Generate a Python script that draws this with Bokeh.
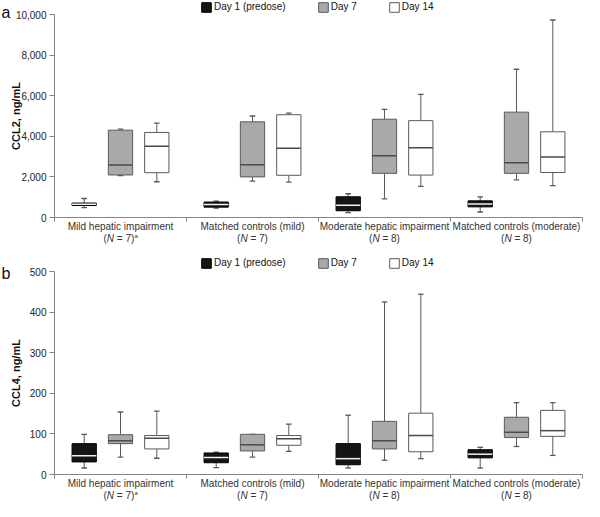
from math import pi
from bokeh.plotting import figure
from bokeh.models import (Range1d, FixedTicker, NumeralTickFormatter, Label,
                          Legend, LegendItem, LinearAxis)
from bokeh.layouts import column
from bokeh.embed import file_html
from bokeh.resources import INLINE

# ---------------- data ----------------
groups = ["Mild hepatic impairment", "Matched controls (mild)",
          "Moderate hepatic impairment", "Matched controls (moderate)"]
group_n = ["7", "7", "8", "8"]
group_note = ["a", "", "", ""]
days = ["Day 1 (predose)", "Day 7", "Day 14"]

# CCL2, ng/mL  (min, q1, median, q3, max) per group
ccl2_day1_min = [490, 460, 238, 270]
ccl2_day1_q1 = [590, 510, 333, 524]
ccl2_day1_med = [650, 635, 600, 670]
ccl2_day1_q3 = [712, 762, 1020, 820]
ccl2_day1_max = [937, 810, 1170, 1016]
ccl2_day7_min = [2063, 1794, 921, 1857]
ccl2_day7_q1 = [2095, 2000, 2175, 2175]
ccl2_day7_med = [2587, 2603, 3040, 2700]
ccl2_day7_q3 = [4302, 4714, 4841, 5190]
ccl2_day7_max = [4349, 5000, 5325, 7302]
ccl2_day14_min = [1762, 1746, 1530, 1571]
ccl2_day14_q1 = [2206, 2079, 2090, 2215]
ccl2_day14_med = [3508, 3413, 3430, 2976]
ccl2_day14_q3 = [4190, 5063, 4770, 4222]
ccl2_day14_max = [4651, 5143, 6070, 9730]

# CCL4, ng/mL
ccl4_day1_min = [16, 17, 16, 16]
ccl4_day1_q1 = [31, 29, 24, 41]
ccl4_day1_med = [46, 42, 39, 50]
ccl4_day1_q3 = [76, 53, 76, 61]
ccl4_day1_max = [99, 55, 146, 67]
ccl4_day7_min = [43, 43, 35, 69]
ccl4_day7_q1 = [76, 58, 63, 91]
ccl4_day7_med = [83, 73, 83, 104]
ccl4_day7_q3 = [98, 99, 131, 141]
ccl4_day7_max = [154, 99, 425, 177]
ccl4_day14_min = [40, 57, 39, 47]
ccl4_day14_q1 = [63, 72, 56, 94]
ccl4_day14_med = [89, 88, 96, 108]
ccl4_day14_q3 = [96, 96, 151, 158]
ccl4_day14_max = [156, 124, 444, 177]

ccl2_ticks = [0, 2000, 4000, 6000, 8000, 10000]
ccl4_ticks = [0, 100, 200, 300, 400, 500]

ccl2 = [
    (ccl2_day1_min, ccl2_day1_q1, ccl2_day1_med, ccl2_day1_q3, ccl2_day1_max),
    (ccl2_day7_min, ccl2_day7_q1, ccl2_day7_med, ccl2_day7_q3, ccl2_day7_max),
    (ccl2_day14_min, ccl2_day14_q1, ccl2_day14_med, ccl2_day14_q3, ccl2_day14_max),
]
ccl4 = [
    (ccl4_day1_min, ccl4_day1_q1, ccl4_day1_med, ccl4_day1_q3, ccl4_day1_max),
    (ccl4_day7_min, ccl4_day7_q1, ccl4_day7_med, ccl4_day7_q3, ccl4_day7_max),
    (ccl4_day14_min, ccl4_day14_q1, ccl4_day14_med, ccl4_day14_q3, ccl4_day14_max),
]

# ---------------- style / layout (pixels) ----------------
FONT = "Liberation Sans"
AXIS_COL = "#858585"
FIG_W = 584
LEFT = 54        # space left of the y axis
RIGHT = 2        # space right of the plotting area
PLOT_H = 203
offsets = [-0.275, 0.0, 0.275]
box_w = 0.184
cap_w = 0.021
fills = ["#151515", "#a9a9a9", "#ffffff"]
borders = ["#000000", "#5a5a5a", "#5a5a5a"]
medians = ["#f2f2f2", "#4a4a4a", "#4a4a4a"]
whisk = ["#555555", "#5a5a5a", "#5a5a5a"]


def make_panel(stats, ymax, ticks, fmt, ylabel, letter, top, bottom,
               legend_center, letter_base):
    height = top + PLOT_H + bottom
    ngroups = len(groups)
    xpx = (FIG_W - LEFT - RIGHT) / ngroups       # pixels per group
    ypx = ymax / PLOT_H                          # data units per pixel
    p = figure(width=FIG_W, height=height,
               x_range=Range1d(-LEFT / xpx, ngroups + RIGHT / xpx),
               y_range=Range1d(-bottom * ypx, ymax + top * ypx),
               output_backend="svg", toolbar_location=None,
               x_axis_location=None, y_axis_location=None,
               min_border_left=0, min_border_right=0,
               min_border_top=0, min_border_bottom=0)
    p.outline_line_color = None
    p.xgrid.visible = False
    p.ygrid.visible = False
    p.background_fill_color = "white"

    ya = LinearAxis(fixed_location=0, bounds=(0, ymax))
    ya.ticker = FixedTicker(ticks=ticks)
    ya.formatter = NumeralTickFormatter(format=fmt)
    ya.axis_line_color = AXIS_COL
    ya.major_tick_line_color = AXIS_COL
    ya.major_tick_out = 5
    ya.major_tick_in = 0
    ya.minor_tick_out = 0
    ya.minor_tick_in = 0
    ya.major_label_standoff = 3
    ya.major_label_text_font = FONT
    ya.major_label_text_font_size = "10px"
    ya.major_label_text_color = "#222222"
    p.add_layout(ya, "left")

    xa = LinearAxis(fixed_location=0, bounds=(0, ngroups))
    xa.ticker = FixedTicker(ticks=[], minor_ticks=list(range(ngroups + 1)))
    xa.axis_line_color = AXIS_COL
    xa.major_tick_line_color = AXIS_COL
    xa.minor_tick_line_color = AXIS_COL
    xa.major_tick_out = 0
    xa.major_tick_in = 0
    xa.minor_tick_out = 4
    xa.minor_tick_in = 0
    p.add_layout(xa, "below")

    box_renderers = []
    for d in range(3):
        mn, q1, md, q3, mx = stats[d]
        xs = [i + 0.5 + offsets[d] for i in range(ngroups)]
        xl = [x - cap_w for x in xs]
        xr = [x + cap_w for x in xs]
        p.segment(xs, q3, xs, mx, line_color=whisk[d], line_width=1)
        p.segment(xs, q1, xs, mn, line_color=whisk[d], line_width=1)
        p.segment(xl, mx, xr, mx, line_color=whisk[d], line_width=1.3)
        p.segment(xl, mn, xr, mn, line_color=whisk[d], line_width=1.3)
        r = p.vbar(x=xs, width=box_w, bottom=q1, top=q3, fill_color=fills[d],
                   line_color=borders[d], line_width=1)
        box_renderers.append(r)
        ml = [x - box_w / 2 for x in xs]
        mr = [x + box_w / 2 for x in xs]
        p.segment(ml, md, mr, md, line_color=medians[d], line_width=1.5)

    # legend: location is its bottom-left corner, from the frame's bottom-left
    legend_h = 13
    legend = Legend(items=[LegendItem(label=days[d], renderers=[box_renderers[d]])
                           for d in range(3)],
                    orientation="horizontal",
                    location=(200, height - (legend_center + legend_h / 2)),
                    glyph_width=12, glyph_height=12, label_standoff=2,
                    spacing=31, padding=0, margin=0, label_height=12,
                    label_width=10, border_line_alpha=0, background_fill_alpha=0,
                    label_text_font=FONT, label_text_font_size="10px",
                    label_text_color="#111111")
    p.add_layout(legend)

    # y axis title
    p.add_layout(Label(x=15, y=bottom + PLOT_H / 2, x_units="screen", y_units="screen",
                       text=ylabel, angle=pi / 2, text_align="center",
                       text_baseline="middle", text_font=FONT,
                       text_font_size="11px", text_font_style="bold",
                       text_color="#111111"))
    # panel letter
    p.add_layout(Label(x=1, y=height - letter_base, x_units="screen", y_units="screen",
                       text=letter, text_align="left", text_baseline="alphabetic",
                       text_font=FONT, text_font_size="16px", text_color="#111111"))

    # category labels (two lines, italic N)
    fs = 10
    cw = fs * 0.333
    nw = fs * 0.722
    sw = fs * 0.278
    rw = fs * (0.584 + 0.278 + 0.556 + 0.333)
    for i, g in enumerate(groups):
        cx = i + 0.5
        common = dict(x=cx, y=bottom - 9, x_units="data", y_units="screen",
                      text_baseline="middle", text_font=FONT,
                      text_font_size="10px", text_color="#333333")
        p.add_layout(Label(text=g, text_align="center", **common))
        total = cw + nw + sw + rw + (fs * 0.33 if group_note[i] else 0)
        start = -total / 2
        l2 = dict(common)
        l2["y"] = bottom - 21
        p.add_layout(Label(text="(", text_align="left", x_offset=start, **l2))
        p.add_layout(Label(text="N", text_align="left", x_offset=start + cw,
                           text_font_style="italic", **l2))
        p.add_layout(Label(text="= " + group_n[i] + ")", text_align="left",
                           x_offset=start + cw + nw + sw, **l2))
        if group_note[i]:
            l3 = dict(l2)
            l3["y"] = bottom - 18
            l3["text_font_size"] = "6px"
            p.add_layout(Label(text=group_note[i], text_align="left",
                               x_offset=start + cw + nw + sw + rw + 0.3, **l3))
    return p


pa = make_panel(ccl2, 10000, ccl2_ticks, "0,0", "CCL2, ng/mL", "a",
                top=14, bottom=29, legend_center=6, letter_base=12)
pb = make_panel(ccl4, 500, ccl4_ticks, "0", "CCL4, ng/mL", "b",
                top=25, bottom=27, legend_center=16, letter_base=27)

layout = column(pa, pb, spacing=0)
open("out.html", "w").write(file_html(layout, INLINE))
